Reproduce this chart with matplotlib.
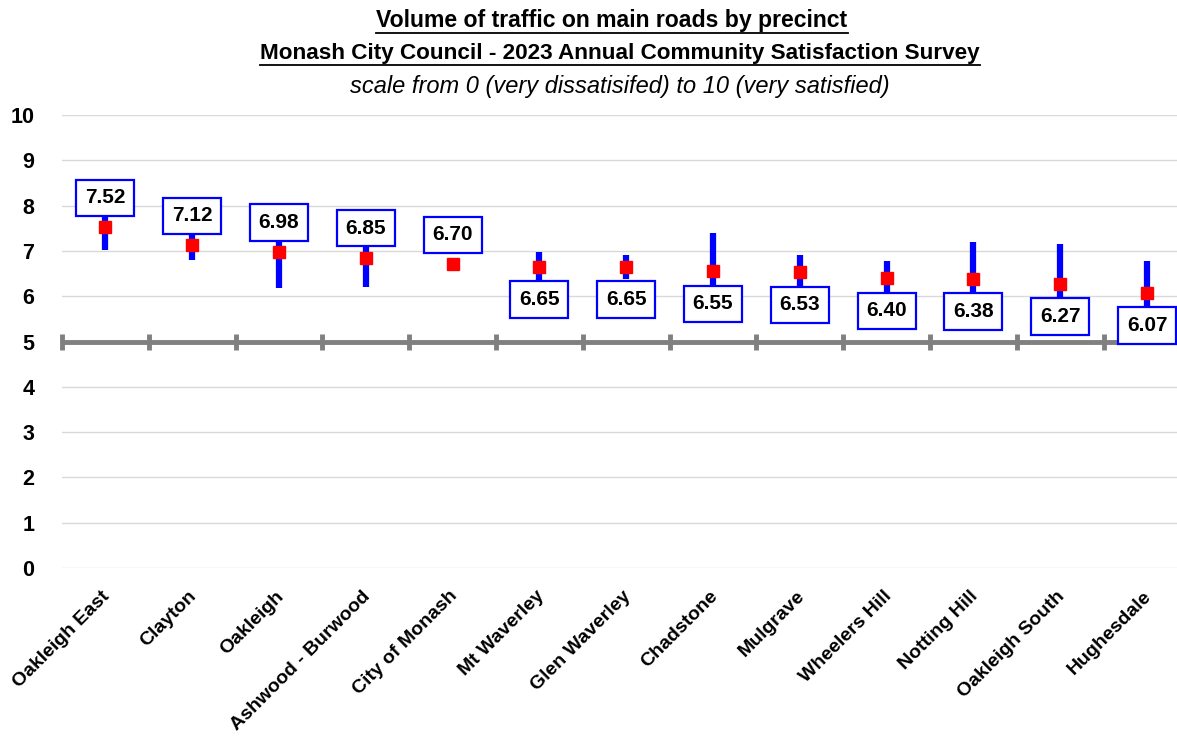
import matplotlib.pyplot as plt
import matplotlib.transforms as mtransforms
import numpy as np

plt.rcParams['font.family'] = ['Liberation Sans', 'DejaVu Sans']

# data
precincts = ["Oakleigh East", "Clayton", "Oakleigh", "Ashwood - Burwood", "City of Monash",
             "Mt Waverley", "Glen Waverley", "Chadstone", "Mulgrave", "Wheelers Hill",
             "Notting Hill", "Oakleigh South", "Hughesdale"]
means = [7.52, 7.12, 6.98, 6.85, 6.70, 6.65, 6.65, 6.55, 6.53, 6.40, 6.38, 6.27, 6.07]
ci_half = [0.49, 0.33, 0.81, 0.65, 0.10, 0.32, 0.27, 0.84, 0.39, 0.38, 0.81, 0.89, 0.71]
y_ticks = [0, 1, 2, 3, 4, 5, 6, 7, 8, 9, 10]

fig = plt.figure(figsize=(11.77, 7.36), dpi=100)
ax = fig.add_axes([62 / 1177, 168 / 736, 13 * 86.8 / 1177, 453 / 736])

x = np.arange(len(precincts))
ax.set_xlim(-0.5, len(precincts) - 0.5)
ax.set_ylim(0, 10)

# gridlines
for yv in y_ticks:
    ax.axhline(yv, color="#d9d9d9", lw=1, zorder=0)

# axis line crossing at 5 with category tick marks
ax.axhline(5, color="#808080", lw=3.5, zorder=1)
ax.plot(np.arange(len(precincts) + 1) - 0.5, [5] * (len(precincts) + 1), ls="none",
        marker="|", ms=12, mew=3.5, color="#808080", zorder=1, clip_on=False)

# confidence intervals and means
ax.errorbar(x, means, yerr=ci_half, fmt="none", ecolor="#0000ff", elinewidth=4.5, capsize=0, zorder=2)
ax.plot(x, means, ls="none", marker="s", ms=8, color="#ff0000", zorder=3)

# data labels
split = precincts.index("City of Monash")
for i, m in enumerate(means):
    off = 29.5 if i <= split else -32.7
    ax.annotate(f"{m:.2f}", (x[i], m), xytext=(0, off), textcoords="offset pixels",
                ha="center", va="center", fontsize=15, fontweight="bold", color="black",
                bbox=dict(boxstyle="square,pad=0.42", fc="white", ec="#0000ff", lw=1.6),
                zorder=4)

for s in ax.spines.values():
    s.set_visible(False)

ax.set_yticks(y_ticks)
ax.set_yticklabels([str(v) for v in y_ticks], fontsize=15.5, fontweight="bold")
ax.tick_params(axis="y", length=0, pad=20)
ax.set_xticks(x)
ax.set_xticklabels(precincts, rotation=45, ha="right", va="top", rotation_mode="anchor",
                   fontsize=14, fontweight="bold")
ax.tick_params(axis="x", length=0, pad=14)
shift = mtransforms.ScaledTranslation(-4 / 100, 0, fig.dpi_scale_trans)
for lab in ax.get_xticklabels():
    lab.set_transform(lab.get_transform() + shift)

# titles
t1 = fig.text(612 / 1177, 1 - 20 / 736, "Volume of traffic on main roads by precinct",
              ha="center", va="center", fontsize=16.6, fontweight="bold")
t2 = fig.text(620 / 1177, 1 - 53 / 736, "Monash City Council - 2023 Annual Community Satisfaction Survey",
              ha="center", va="center", fontsize=16.2, fontweight="bold")
fig.text(620 / 1177, 1 - 87 / 736, "scale from 0 (very dissatisifed) to 10 (very satisfied)",
         ha="center", va="center", fontsize=17, style="italic")

# underline the two title lines
fig.canvas.draw()
r = fig.canvas.get_renderer()
for t in (t1, t2):
    bb = t.get_window_extent(r)
    yy = (bb.y0 - 1) / fig.bbox.height
    fig.add_artist(plt.Line2D([bb.x0 / fig.bbox.width, bb.x1 / fig.bbox.width], [yy, yy],
                              color="black", lw=1.3))

fig.savefig("out.png", dpi=100)
